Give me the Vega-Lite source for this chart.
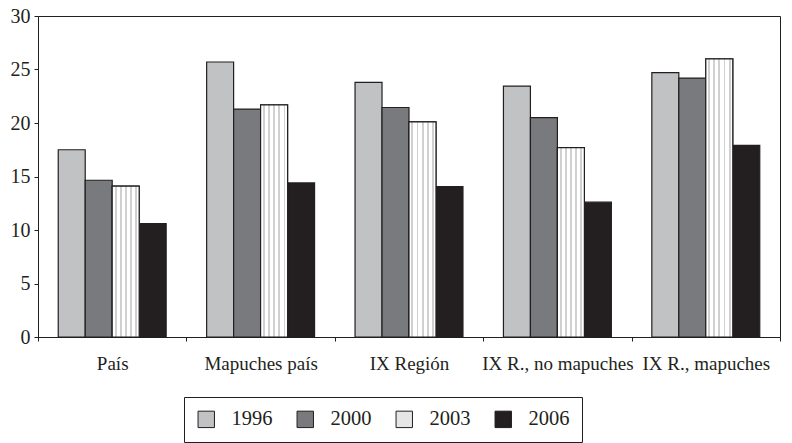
{
  "$schema": "https://vega.github.io/schema/vega-lite/v6.json",
  "width": 742,
  "height": 321,
  "autosize": {"type": "none"},
  "padding": {"left": 38, "top": 16, "right": 12, "bottom": 106},
  "background": "white",
  "config": {
    "view": {"stroke": "#231f20", "strokeWidth": 1},
    "font": "Liberation Serif",
    "axis": {
      "domainColor": "#231f20",
      "tickColor": "#231f20",
      "labelColor": "#231f20",
      "labelFont": "Liberation Serif",
      "grid": false,
      "title": null
    }
  },
  "data": {
    "values": [
      {"region": "País", "year": "1996", "value": 17.5},
      {"region": "País", "year": "2000", "value": 14.65},
      {"region": "País", "year": "2003", "value": 14.1},
      {"region": "País", "year": "2006", "value": 10.6},
      {"region": "Mapuches país", "year": "1996", "value": 25.7},
      {"region": "Mapuches país", "year": "2000", "value": 21.3},
      {"region": "Mapuches país", "year": "2003", "value": 21.7},
      {"region": "Mapuches país", "year": "2006", "value": 14.4},
      {"region": "IX Región", "year": "1996", "value": 23.8},
      {"region": "IX Región", "year": "2000", "value": 21.45},
      {"region": "IX Región", "year": "2003", "value": 20.1},
      {"region": "IX Región", "year": "2006", "value": 14.05},
      {"region": "IX R., no mapuches", "year": "1996", "value": 23.45},
      {"region": "IX R., no mapuches", "year": "2000", "value": 20.5},
      {"region": "IX R., no mapuches", "year": "2003", "value": 17.7},
      {"region": "IX R., no mapuches", "year": "2006", "value": 12.6},
      {"region": "IX R., mapuches", "year": "1996", "value": 24.7},
      {"region": "IX R., mapuches", "year": "2000", "value": 24.2},
      {"region": "IX R., mapuches", "year": "2003", "value": 26.0},
      {"region": "IX R., mapuches", "year": "2006", "value": 17.9}
    ]
  },
  "encoding": {
    "x": {
      "field": "region",
      "type": "nominal",
      "sort": null,
      "scale": {"paddingInner": 0, "paddingOuter": 0},
      "axis": {
        "labelAngle": 0,
        "labelFontSize": 19,
        "tickBand": "extent",
        "tickSize": 4,
        "labelPadding": 13,
        "labelBaseline": "top",
        "domainWidth": 1
      }
    },
    "xOffset": {
      "field": "year",
      "type": "nominal",
      "scale": {"domain": ["1996", "2000", "2003", "2006"], "paddingInner": 0, "paddingOuter": 0.75}
    },
    "y": {
      "field": "value",
      "type": "quantitative",
      "scale": {"domain": [0, 30], "nice": false},
      "axis": {
        "values": [0, 5, 10, 15, 20, 25, 30],
        "labelFontSize": 20,
        "tickSize": 4,
        "labelPadding": 4,
        "domainWidth": 1
      }
    }
  },
  "layer": [
    {
      "mark": {"type": "bar", "stroke": "#231f20", "strokeWidth": 1.2},
      "encoding": {
        "fill": {
          "field": "year",
          "type": "nominal",
          "scale": {
            "domain": ["1996", "2000", "2003", "2006"],
            "range": ["#c1c2c4", "#797a7d", "#e6e6e6", "#231f20"]
          },
          "legend": {
            "title": null,
            "orient": "none",
            "legendX": 146,
            "legendY": 381,
            "direction": "horizontal",
            "columns": 4,
            "symbolType": "square",
            "symbolSize": 270,
            "symbolStrokeColor": "#231f20",
            "symbolStrokeWidth": 1,
            "symbolOpacity": 1,
            "labelFontSize": 20.5,
            "labelFont": "Liberation Serif",
            "labelColor": "#231f20",
            "labelOffset": 15,
            "columnPadding": 22,
            "padding": 12,
            "strokeColor": "#231f20",
            "fillColor": "white"
          }
        }
      }
    },
    {
      "transform": [{"filter": "datum.year === '2003'"}],
      "mark": {
        "type": "bar",
        "stroke": "#231f20",
        "strokeWidth": 1.2,
        "color": {
          "x1": 0, "y1": 0, "x2": 1, "y2": 0,
          "gradient": "linear",
          "stops": [
            {"offset": 0, "color": "#ffffff"},
            {"offset": 0.09, "color": "#ffffff"},
            {"offset": 0.09, "color": "#d0d0d0"},
            {"offset": 0.16, "color": "#d0d0d0"},
            {"offset": 0.16, "color": "#ffffff"},
            {"offset": 0.28, "color": "#ffffff"},
            {"offset": 0.28, "color": "#d0d0d0"},
            {"offset": 0.35, "color": "#d0d0d0"},
            {"offset": 0.35, "color": "#ffffff"},
            {"offset": 0.47, "color": "#ffffff"},
            {"offset": 0.47, "color": "#d0d0d0"},
            {"offset": 0.54, "color": "#d0d0d0"},
            {"offset": 0.54, "color": "#ffffff"},
            {"offset": 0.66, "color": "#ffffff"},
            {"offset": 0.66, "color": "#d0d0d0"},
            {"offset": 0.73, "color": "#d0d0d0"},
            {"offset": 0.73, "color": "#ffffff"},
            {"offset": 0.85, "color": "#ffffff"},
            {"offset": 0.85, "color": "#d0d0d0"},
            {"offset": 0.92, "color": "#d0d0d0"},
            {"offset": 0.92, "color": "#ffffff"},
            {"offset": 1, "color": "#ffffff"}
          ]
        }
      }
    }
  ]
}
